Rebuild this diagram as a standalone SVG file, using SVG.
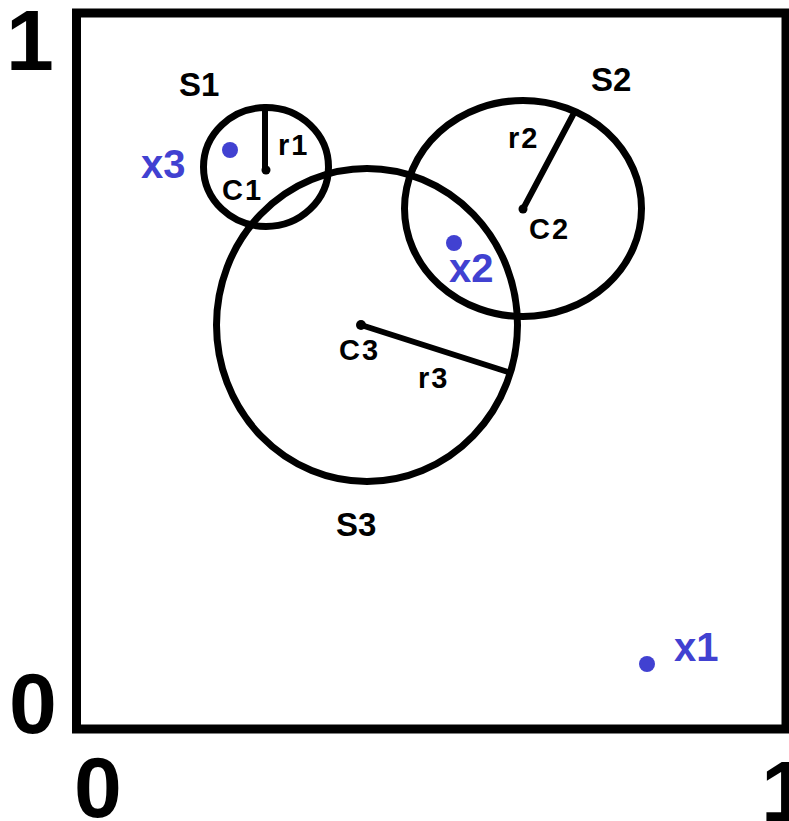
<svg xmlns="http://www.w3.org/2000/svg" width="789" height="821" viewBox="0 0 789 821">
<style>
.ax{font:bold 86px "Liberation Sans",Arial,sans-serif;fill:#000}
.s{font:bold 33px "Liberation Sans",Arial,sans-serif;fill:#000}
.l{font:bold 29px "Liberation Sans",Arial,sans-serif;fill:#000;letter-spacing:2px}
.b{font:bold 40px "Liberation Sans",Arial,sans-serif;fill:#4141d1}
.c{fill:none;stroke:#000;stroke-width:7}
.r{stroke:#000;stroke-width:6;stroke-linecap:round}
.d{fill:#4141d1}
</style>
<rect width="789" height="821" fill="#fff"/>
<g id="frame">
<rect x="76.5" y="13" width="709.5" height="716" fill="none" stroke="#000" stroke-width="9"/>
<text class="ax" x="6" y="70">1</text>
<text class="ax" x="9" y="733">0</text>
<text class="ax" x="74" y="817">0</text>
<text class="ax" x="761" y="821">1</text>
</g>
<g id="S3">
<ellipse class="c" cx="367" cy="325" rx="150.5" ry="156.5"/>
<text class="s" x="336" y="536">S3</text>
</g>
<g id="S1">
<ellipse class="c" cx="266" cy="167" rx="62.5" ry="59.5"/>
<text class="s" x="179" y="96">S1</text>
</g>
<g id="S2">
<ellipse class="c" cx="523" cy="208.5" rx="118.5" ry="108"/>
<text class="s" x="591" y="91">S2</text>
</g>
<g id="connectors">
<line class="r" x1="265" y1="107" x2="265" y2="170"/>
<circle cx="266" cy="170" r="4.5"/>
<line class="r" x1="523" y1="209" x2="574" y2="113"/>
<circle cx="523" cy="209" r="4.5"/>
<line class="r" x1="361" y1="325" x2="508" y2="372"/>
<circle cx="361" cy="325" r="5"/>
</g>
<g id="labels">
<text class="l" x="222" y="200">C1</text>
<text class="l" x="278" y="155">r1</text>
<text class="l" x="529" y="239">C2</text>
<text class="l" x="508" y="148">r2</text>
<text class="l" x="339" y="360">C3</text>
<text class="l" x="418" y="388">r3</text>
</g>
<g id="x3">
<circle class="d" cx="230" cy="150" r="8"/>
<text class="b" x="141" y="178">x3</text>
</g>
<g id="x2">
<circle class="d" cx="454" cy="243" r="8"/>
<text class="b" x="449" y="282">x2</text>
</g>
<g id="x1">
<circle class="d" cx="647" cy="664" r="8"/>
<text class="b" x="674" y="661">x1</text>
</g>
</svg>
